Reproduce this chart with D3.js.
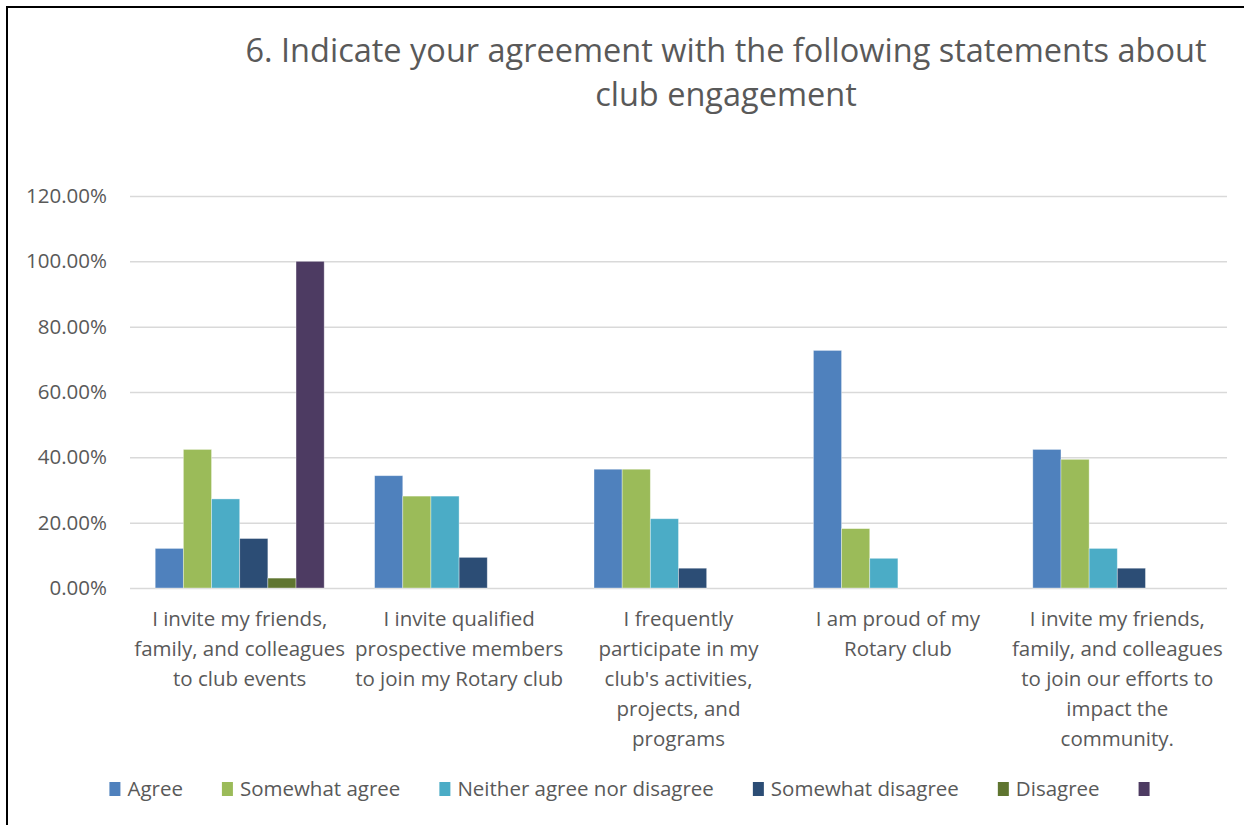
<!DOCTYPE html>
<html>
<head>
<meta charset="utf-8">
<script src="https://cdn.jsdelivr.net/npm/d3@7/dist/d3.min.js"></script>
<style>
  html, body { margin: 0; padding: 0; background: #fff; }
  svg { display: block; font-family: "Open Sans", sans-serif; }
</style>
</head>
<body>
<svg id="chart" width="1244" height="825"></svg>
<script>
// Survey question 6: share of responses per statement
const categories = [
  "I invite my friends, family, and colleagues to club events",
  "I invite qualified prospective members to join my Rotary club",
  "I frequently participate in my club's activities, projects, and programs",
  "I am proud of my Rotary club",
  "I invite my friends, family, and colleagues to join our efforts to impact the community."
];
const categoryLines = [
  ["I invite my friends,", "family, and colleagues", "to club events"],
  ["I invite qualified", "prospective members", "to join my Rotary club"],
  ["I frequently", "participate in my", "club's activities,", "projects, and", "programs"],
  ["I am proud of my", "Rotary club"],
  ["I invite my friends,", "family, and colleagues", "to join our efforts to", "impact the", "community."]
];
const seriesNames = ["Agree", "Somewhat agree", "Neither agree nor disagree", "Somewhat disagree", "Disagree", ""];
const seriesColors = ["#4F81BD", "#9BBB59", "#4BACC6", "#2C4D75", "#5F7530", "#4D3B62"];

// Values in percent, one array per series (null = no response in that series)
const agree           = [12.12, 34.38, 36.36, 72.73, 42.42];
const somewhatAgree   = [42.42, 28.13, 36.36, 18.18, 39.39];
const neither         = [27.27, 28.13, 21.21,  9.09, 12.12];
const somewhatDisagree= [15.15,  9.38,  6.06,  null,  6.06];
const disagree        = [ 3.03,  null,  null,  null,  null];
const unlabeled       = [100.00, null,  null,  null,  null];
const seriesValues = [agree, somewhatAgree, neither, somewhatDisagree, disagree, unlabeled];

const yTicks = [0, 20, 40, 60, 80, 100, 120];
const titleLines = ["6. Indicate your agreement with the following statements about", "club engagement"];

const textColor = "#595959";
const svg = d3.select("#chart");

// Chart frame
svg.append("line").attr("x1", 6).attr("x2", 1244).attr("y1", 7).attr("y2", 7)
  .attr("stroke", "#000").attr("stroke-width", 2);
svg.append("line").attr("x1", 7).attr("x2", 7).attr("y1", 6).attr("y2", 825)
  .attr("stroke", "#000").attr("stroke-width", 2);

// Title
svg.append("text")
  .attr("text-anchor", "middle")
  .attr("fill", textColor)
  .attr("font-size", 32.5)
  .selectAll("tspan").data(titleLines).join("tspan")
  .attr("x", 726)
  .attr("y", (d, i) => 62 + i * 44)
  .text(d => d);

const plot = { left: 130, right: 1227, top: 196, bottom: 588 };

const y = d3.scaleLinear().domain([0, 120]).range([plot.bottom, plot.top]);
const x0 = d3.scaleBand().domain(categories).range([plot.left, plot.right]).paddingInner(0).paddingOuter(0);
const x1 = d3.scaleBand().domain(d3.range(seriesNames.length)).range([0, x0.bandwidth()])
  .paddingInner(0).paddingOuter(0.895);

// Gridlines and y-axis labels
const yAxis = d3.axisLeft(y).tickValues(yTicks)
  .tickSize(-(plot.right - plot.left))
  .tickPadding(23)
  .tickFormat(d => d.toFixed(2) + "%");
const gy = svg.append("g").attr("transform", `translate(${plot.left},0)`).call(yAxis);
gy.attr("font-family", null);
gy.select(".domain").remove();
gy.selectAll(".tick line").attr("stroke", "#D9D9D9").attr("stroke-width", 1.5);
gy.selectAll(".tick text").attr("fill", textColor).attr("font-size", 20.5);

// Bars
const rows = [];
categories.forEach((c, ci) => {
  seriesValues.forEach((vals, si) => {
    if (vals[ci] != null) rows.push({ c, si, v: vals[ci] });
  });
});
svg.append("g").selectAll("rect").data(rows).join("rect")
  .attr("x", d => x0(d.c) + x1(d.si))
  .attr("width", x1.bandwidth())
  .attr("y", d => y(d.v))
  .attr("height", d => y(0) - y(d.v))
  .attr("fill", d => seriesColors[d.si])
  .attr("stroke", "rgba(255,255,255,0.45)")
  .attr("stroke-width", 0.8);

// Category labels
const gx = svg.append("g");
categories.forEach((c, ci) => {
  gx.append("text")
    .attr("text-anchor", "middle")
    .attr("fill", textColor)
    .attr("font-size", 20.5)
    .selectAll("tspan").data(categoryLines[ci]).join("tspan")
    .attr("x", x0(c) + x0.bandwidth() / 2)
    .attr("y", (d, i) => 626 + i * 30)
    .text(d => d);
});

// Legend
const legendGap = 39;
const legend = svg.append("g");
const items = legend.selectAll("g").data(seriesNames).join("g");
items.append("rect").attr("width", 11).attr("height", 14).attr("y", 782)
  .attr("fill", (d, i) => seriesColors[i]);
items.append("text").attr("x", 18).attr("y", 796)
  .attr("fill", textColor).attr("font-size", 20.5).text(d => d);
let cursor = 0;
const offsets = [];
items.each(function (d) {
  offsets.push(cursor);
  const w = d3.select(this).select("text").node().getComputedTextLength();
  cursor += 18 + w + legendGap;
});
const legendWidth = cursor - legendGap;
const legendStart = 633 - legendWidth / 2;
items.attr("transform", (d, i) => `translate(${legendStart + offsets[i]},0)`);
</script>
</body>
</html>
